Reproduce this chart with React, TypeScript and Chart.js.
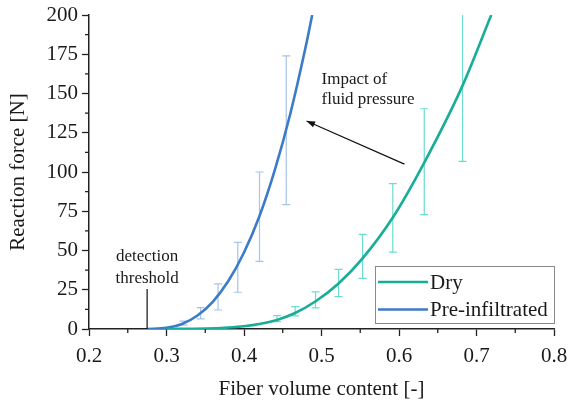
import React, { useEffect, useRef } from "react";
import { Chart, registerables } from "chart.js";
Chart.register(...registerables);

// Curves
const dryX = [0.30, 0.35, 0.38, 0.40, 0.42, 0.4425, 0.466, 0.492, 0.522, 0.553, 0.592, 0.6326, 0.682, 0.719];
const dryY = [0, 0.3, 1.0, 1.8, 3.2, 5.8, 10.2, 17.5, 29, 45, 71, 106, 155, 200];
const preX = [0.275, 0.30, 0.32, 0.34, 0.36, 0.38, 0.40, 0.42, 0.44, 0.46, 0.48, 0.488];
const preY = [0, 0.7, 3.2, 8.6, 17.5, 30.7, 48.7, 72, 101.7, 137.6, 180.7, 200];

// Error bars
const preErrX = [0.322, 0.344, 0.3665, 0.392, 0.42, 0.4545];
const preErrLow = [2.5, 6.4, 12.1, 23.4, 43.1, 79.2];
const preErrHigh = [5, 13.6, 28.7, 55.2, 100, 174];
const dryErrX = [0.4425, 0.466, 0.4923, 0.522, 0.553, 0.592, 0.6326, 0.682];
const dryErrLow = [4.7, 8.3, 13.4, 20.6, 32.3, 49, 72.8, 106.8];
const dryErrHigh = [8.5, 14.2, 23.6, 38, 60.3, 92.6, 140.3, 203];

const seriesLabels = ["Dry", "Pre-infiltrated"];
const xTitle = "Fiber volume content [-]";
const yTitle = "Reaction force [N]";
const thresholdX = 0.275;

const DRY = "#17ad98";
const PRE = "#3b7bc8";
const DRY_ERR = "#6ddccf";
const PRE_ERR = "#a5c4e8";
const FONT = "'Liberation Serif', 'Times New Roman', serif";
const TXT = "#1a1a1a";

const pts = (xs: number[], ys: number[]) => xs.map((x, i) => ({ x, y: ys[i] }));

const extrasPlugin = {
  id: "extras",
  beforeDatasetsDraw(chart: any) {
    const { ctx, chartArea, scales } = chart;
    const xs = scales.x, ys = scales.y;
    ctx.save();
    ctx.beginPath();
    ctx.rect(chartArea.left, chartArea.top, chartArea.right - chartArea.left, chartArea.bottom - chartArea.top);
    ctx.clip();
    const drawBars = (bx: number[], lo: number[], hi: number[], color: string) => {
      ctx.strokeStyle = color;
      ctx.lineWidth = 1.2;
      bx.forEach((v, i) => {
        const px = xs.getPixelForValue(v);
        const y1 = ys.getPixelForValue(lo[i]);
        const y2 = ys.getPixelForValue(hi[i]);
        ctx.beginPath();
        ctx.moveTo(px, y1); ctx.lineTo(px, y2);
        ctx.moveTo(px - 4, y1); ctx.lineTo(px + 4, y1);
        ctx.moveTo(px - 4, y2); ctx.lineTo(px + 4, y2);
        ctx.stroke();
      });
    };
    drawBars(preErrX, preErrLow, preErrHigh, PRE_ERR);
    drawBars(dryErrX, dryErrLow, dryErrHigh, DRY_ERR);
    ctx.restore();
  },
  afterDraw(chart: any) {
    const { ctx, chartArea, scales } = chart;
    const xs = scales.x, ys = scales.y;
    ctx.save();
    // minor ticks
    ctx.strokeStyle = "#222";
    ctx.lineWidth = 1.3;
    for (let v = 0.25; v < 0.8; v += 0.1) {
      const px = xs.getPixelForValue(v);
      ctx.beginPath(); ctx.moveTo(px, chartArea.bottom); ctx.lineTo(px, chartArea.bottom + 4); ctx.stroke();
    }
    for (let v = 12.5; v < 200; v += 25) {
      const py = ys.getPixelForValue(v);
      ctx.beginPath(); ctx.moveTo(chartArea.left, py); ctx.lineTo(chartArea.left - 4, py); ctx.stroke();
    }
    // detection threshold
    const tx = xs.getPixelForValue(thresholdX);
    ctx.strokeStyle = "#111";
    ctx.lineWidth = 1.2;
    ctx.beginPath(); ctx.moveTo(tx, ys.getPixelForValue(25.5)); ctx.lineTo(tx, ys.getPixelForValue(0)); ctx.stroke();
    ctx.fillStyle = TXT;
    ctx.font = `17px ${FONT}`;
    ctx.textAlign = "center";
    ctx.textBaseline = "middle";
    ctx.fillText("detection", tx, ys.getPixelForValue(46.3));
    ctx.fillText("threshold", tx, ys.getPixelForValue(32.3));
    // fluid pressure annotation
    ctx.textAlign = "left";
    ctx.fillText("Impact of", xs.getPixelForValue(0.5), ys.getPixelForValue(159));
    ctx.fillText("fluid pressure", xs.getPixelForValue(0.5), ys.getPixelForValue(146));
    const ax1 = xs.getPixelForValue(0.607), ay1 = ys.getPixelForValue(105);
    const ax2 = xs.getPixelForValue(0.4807), ay2 = ys.getPixelForValue(132.5);
    ctx.beginPath(); ctx.moveTo(ax1, ay1); ctx.lineTo(ax2, ay2); ctx.stroke();
    const ang = Math.atan2(ay2 - ay1, ax2 - ax1);
    ctx.beginPath();
    ctx.moveTo(ax2, ay2);
    ctx.lineTo(ax2 - 9 * Math.cos(ang - 0.35), ay2 - 9 * Math.sin(ang - 0.35));
    ctx.lineTo(ax2 - 9 * Math.cos(ang + 0.35), ay2 - 9 * Math.sin(ang + 0.35));
    ctx.closePath();
    ctx.fillStyle = "#111";
    ctx.fill();
    // legend
    const bw = 179, bh = 57;
    const bx = chartArea.right - bw, by = chartArea.bottom - 63;
    ctx.fillStyle = "#fff";
    ctx.fillRect(bx, by, bw, bh);
    ctx.strokeStyle = "#8a8a8a";
    ctx.lineWidth = 1;
    ctx.strokeRect(bx + 0.5, by + 0.5, bw, bh);
    const colors = [DRY, PRE];
    ctx.font = `21px ${FONT}`;
    ctx.textBaseline = "middle";
    seriesLabels.forEach((lab, i) => {
      const ly = by + 16 + i * 27.5;
      ctx.strokeStyle = colors[i];
      ctx.lineWidth = 2.5;
      ctx.beginPath(); ctx.moveTo(bx + 3, ly); ctx.lineTo(bx + 53, ly); ctx.stroke();
      ctx.fillStyle = TXT;
      ctx.fillText(lab, bx + 55, ly + 1);
    });
    ctx.restore();
  },
};

export default function App() {
  const ref = useRef<HTMLCanvasElement>(null);
  useEffect(() => {
    if (!ref.current) return;
    const chart = new Chart(ref.current, {
      type: "line",
      data: {
        datasets: [
          {
            label: seriesLabels[0],
            data: pts(dryX, dryY),
            borderColor: DRY,
            borderWidth: 2.6,
            pointRadius: 0,
            cubicInterpolationMode: "monotone",
            fill: false,
          },
          {
            label: seriesLabels[1],
            data: pts(preX, preY),
            borderColor: PRE,
            borderWidth: 2.6,
            pointRadius: 0,
            cubicInterpolationMode: "monotone",
            fill: false,
          },
        ],
      },
      options: {
        animation: false,
        responsive: false,
        devicePixelRatio: 1,
        layout: { padding: { left: 0, top: 15, right: 14, bottom: 0 } },
        plugins: { legend: { display: false }, tooltip: { enabled: false } },
        scales: {
          x: {
            type: "linear",
            min: 0.2,
            max: 0.8,
            afterFit: (s: any) => { s.height = 73; s.paddingLeft = 0; s.paddingRight = 0; },
            ticks: {
              stepSize: 0.1,
              color: TXT,
              font: { family: FONT, size: 21 },
              padding: 8,
              maxRotation: 0,
              callback: (v: any) => Number(v).toFixed(1),
            },
            grid: { drawOnChartArea: false, drawTicks: true, tickLength: 7, tickColor: "#222", tickWidth: 1.3 },
            border: { color: "#222", width: 1.5 },
            title: { display: true, text: xTitle, color: TXT, font: { family: FONT, size: 21 }, padding: { top: 0, bottom: 0 } },
          },
          y: {
            type: "linear",
            min: 0,
            max: 200,
            afterFit: (s: any) => { s.width = 89; s.paddingTop = 0; s.paddingBottom = 0; },
            ticks: {
              stepSize: 25,
              color: TXT,
              font: { family: FONT, size: 21 },
              padding: 4,
            },
            grid: { drawOnChartArea: false, drawTicks: true, tickLength: 7, tickColor: "#222", tickWidth: 1.3 },
            border: { color: "#222", width: 1.5 },
            title: { display: true, text: yTitle, color: TXT, font: { family: FONT, size: 21 }, padding: { top: 6, bottom: 0 } },
          },
        },
      },
      plugins: [extrasPlugin],
    } as any);
    return () => chart.destroy();
  }, []);
  return (
    <div style={{ position: "absolute", left: 0, top: 0, width: 568, height: 402, background: "#fff" }}>
      <canvas ref={ref} width={568} height={402} style={{ width: 568, height: 402, display: "block" }} />
    </div>
  );
}
